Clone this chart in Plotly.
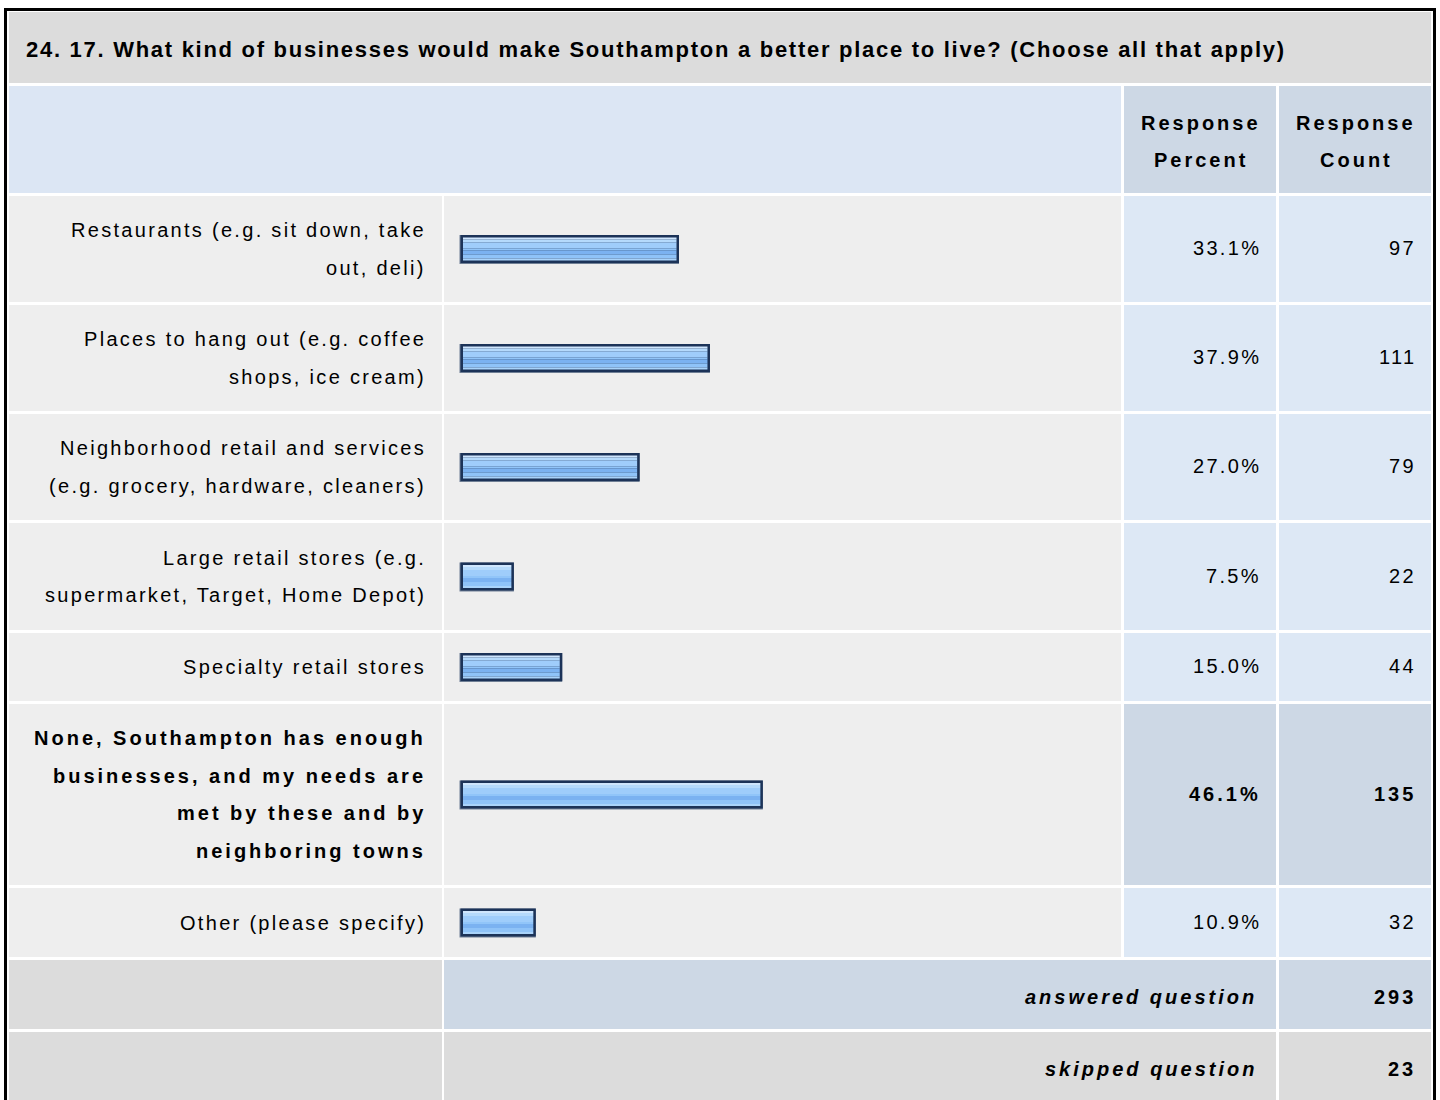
import plotly.graph_objects as go

# data
question = "24. 17. What kind of businesses would make Southampton a better place to live? (Choose all that apply)"
answers = [
    "Restaurants (e.g. sit down, take<br>out, deli)",
    "Places to hang out (e.g. coffee<br>shops, ice cream)",
    "Neighborhood retail and services<br>(e.g. grocery, hardware, cleaners)",
    "Large retail stores (e.g.<br>supermarket, Target, Home Depot)",
    "Specialty retail stores",
    "None, Southampton has enough<br>businesses, and my needs are<br>met by these and by<br>neighboring towns",
    "Other (please specify)",
]
response_percent = [33.1, 37.9, 27.0, 7.5, 15.0, 46.1, 10.9]
response_count = [97, 111, 79, 22, 44, 135, 32]
answered_question = 293
skipped_question = 23
bold_rows = [5]

# layout (pixels)
W, H = 1440, 1100
col_label = (9, 442)
col_bar = (444, 1121)
col_pct = (1124, 1276)
col_cnt = (1279, 1431)
title_row = (12, 83)
header_row = (86, 193)
row_edges = [(196, 302), (305, 411), (414, 520), (523, 630), (633, 701), (704, 885), (888, 957)]
answered_row = (960, 1029)
skipped_row = (1032, 1110)

PX_PER_PCT = 6.45
BAR_X0 = 463
BAR_H = 28
BORDER = 2.5

FONT = "Liberation Sans, Arial, sans-serif"
LS = 2.3      # letter spacing, regular text
LS_B = 3.0    # letter spacing, bold text
LINE_H = 37.5

GRAY = "#dcdcdc"
LIGHT = "#eeeeee"
BLUE = "#dde8f5"
BLUE_HDR = "#dce6f4"
BLUE_DARK = "#cdd8e5"

fig = go.Figure()
shapes = []
annots = []


def cell(x, y, color):
    shapes.append(dict(type="rect", xref="x", yref="y", x0=x[0], x1=x[1], y0=y[0], y1=y[1],
                       fillcolor=color, line=dict(width=0), layer="below"))


def text(s, x, y, anchor="right", bold=False, italic=False, size=20, spacing=None):
    t = s
    if bold:
        t = "<b>" + t + "</b>"
    if italic:
        t = "<i>" + t + "</i>"
    if spacing is None:
        spacing = LS_B if bold else LS
    t = '<span style="letter-spacing:%spx">%s</span>' % (spacing, t)
    annots.append(dict(x=x, y=y, xref="x", yref="y", text=t, showarrow=False,
                       xanchor=anchor, yanchor="middle",
                       font=dict(family=FONT, size=size, color="#000000")))


# title + header
cell((col_label[0], col_cnt[1]), title_row, GRAY)
text(question, 24, 49, anchor="left", bold=True, size=22, spacing=1.72)
cell((col_label[0], col_bar[1]), header_row, BLUE_HDR)
cell(col_pct, header_row, BLUE_DARK)
cell(col_cnt, header_row, BLUE_DARK)
for col, words in [(col_pct, ["Response", "Percent"]), (col_cnt, ["Response", "Count"])]:
    cx = (col[0] + col[1]) / 2
    text(words[0], cx + 1, 123, anchor="center", bold=True)
    text(words[1], cx + 1, 160, anchor="center", bold=True)

# answer rows
centers = []
for i, (y0, y1) in enumerate(row_edges):
    bold = i in bold_rows
    cy = (y0 + y1) / 2
    centers.append(cy)
    cell(col_label, (y0, y1), LIGHT)
    cell(col_bar, (y0, y1), LIGHT)
    cell(col_pct, (y0, y1), BLUE_DARK if bold else BLUE)
    cell(col_cnt, (y0, y1), BLUE_DARK if bold else BLUE)
    lines = answers[i].split("<br>")
    n = len(lines)
    for k, ln in enumerate(lines):
        ly = cy + (k - (n - 1) / 2) * LINE_H
        text(ln, 428, ly, bold=bold)
    text("%.1f%%" % response_percent[i], 1263, cy - 1, bold=bold)
    text(str(response_count[i]), 1418, cy - 1, bold=bold)

# summary rows
cell(col_label, answered_row, GRAY)
cell((col_bar[0], col_pct[1]), answered_row, BLUE_DARK)
cell(col_cnt, answered_row, BLUE_DARK)
text("answered question", 1259, 997, bold=True, italic=True)
text(str(answered_question), 1418, 997, bold=True)
cell(col_label, skipped_row, GRAY)
cell((col_bar[0], col_pct[1]), skipped_row, GRAY)
cell(col_cnt, skipped_row, GRAY)
text("skipped question", 1259, 1069, bold=True, italic=True)
text(str(skipped_question), 1418, 1069, bold=True)

# outer frame
shapes.append(dict(type="rect", xref="x", yref="y", x0=5.5, x1=1434.5, y0=9.5, y1=1120,
                   line=dict(color="#000000", width=3), fillcolor="rgba(0,0,0,0)", layer="above"))

# bars: shadow, navy frame, then glossy stripes
b = BORDER / PX_PER_PCT
one = 1 / PX_PER_PCT
fig.add_trace(go.Bar(y=centers, x=[v + 2 * b + one for v in response_percent], base=-b - one,
                     orientation="h", width=BAR_H + 1, offset=-BAR_H / 2,
                     marker=dict(color="#6f7f95", line=dict(width=0)),
                     xaxis="x2", yaxis="y", hoverinfo="skip"))
fig.add_trace(go.Bar(y=centers, x=[v + 2 * b for v in response_percent], base=-b,
                     orientation="h", width=BAR_H, offset=-BAR_H / 2,
                     marker=dict(color="#1c3358", line=dict(width=0)),
                     xaxis="x2", yaxis="y", hoverinfo="skip"))
inner = BAR_H - 2 * BORDER
stripes = [(0, 2, "#cfe6fd"), (2, 5, "#b5dafc"), (5, 11, "#9fcdfb"), (11, 13, "#91c5f9"),
           (13, 17, "#7bb2f1"), (17, 21, "#8fc3f8"), (21, inner, "#a9d3fa")]
for s0, s1, c in stripes:
    fig.add_trace(go.Bar(y=centers, x=response_percent, base=0, orientation="h",
                         width=s1 - s0, offset=-inner / 2 + s0,
                         marker=dict(color=c, line=dict(width=0)),
                         xaxis="x2", yaxis="y", hoverinfo="skip"))

fig.update_layout(
    width=W, height=H, margin=dict(l=0, r=0, t=0, b=0),
    paper_bgcolor="#ffffff", plot_bgcolor="rgba(0,0,0,0)",
    barmode="overlay", showlegend=False,
    xaxis=dict(range=[0, W], domain=[0, 1], visible=False, fixedrange=True),
    xaxis2=dict(range=[-2, 100], domain=[(BAR_X0 - 2 * PX_PER_PCT) / W, (BAR_X0 + 100 * PX_PER_PCT) / W],
                anchor="y", visible=False, fixedrange=True),
    yaxis=dict(range=[H, 0], domain=[0, 1], visible=False, fixedrange=True),
    shapes=shapes, annotations=annots,
)

fig.write_html("out.html", config={"displayModeBar": False},
               post_script="document.body.style.margin='0';")
